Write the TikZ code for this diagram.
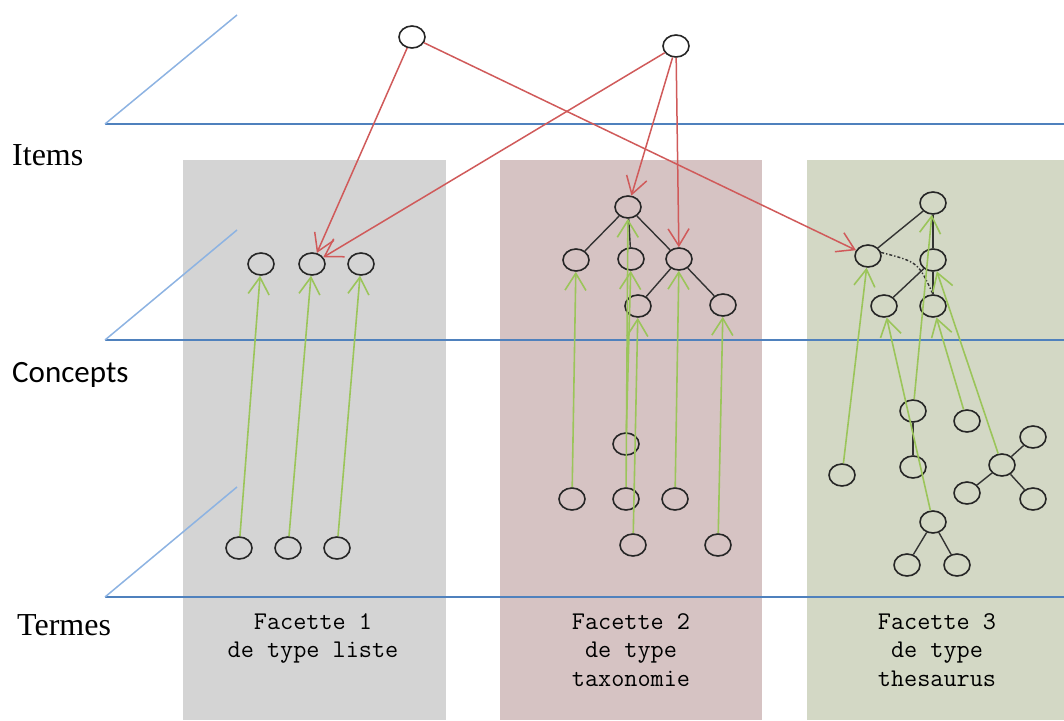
\documentclass[tikz,border=0pt]{standalone}
\usepackage{fontspec}
\setmainfont{Liberation Serif}
\newfontfamily\calibrifont{Carlito}
\usepackage{tikz}
\usetikzlibrary{shapes.geometric,arrows.meta}

\definecolor{planeblue}{HTML}{4F81BD}
\definecolor{diagblue}{HTML}{8DB3E2}
\definecolor{linkred}{HTML}{D05A5A}
\definecolor{linkgreen}{HTML}{9BC55A}
\definecolor{bggray}{HTML}{D4D4D4}
\definecolor{bgpink}{HTML}{D6C3C3}
\definecolor{bggreen}{HTML}{D3D8C5}

\tikzset{
  elt/.style={draw=black!85, line width=1.6pt, ellipse, minimum width=26pt, minimum height=22pt, inner sep=0pt},
  tree/.style={draw=black!80, line width=1.4pt},
  itemlink/.style={draw=linkred, line width=1.5pt, -{Straight Barb[length=17pt,width=21pt]}},
  termlink/.style={draw=linkgreen, line width=1.6pt, -{Straight Barb[length=17pt,width=21pt]}},
  plane/.style={draw=planeblue, line width=1.5pt},
  slant/.style={draw=diagblue, line width=1.5pt},
  layer/.style={font=\fontsize{32}{36}\selectfont, anchor=base west, inner sep=0pt},
  facet/.style={font=\ttfamily\fontsize{25.5}{28.5}\selectfont, align=center, anchor=north, inner sep=0pt}
}

\begin{document}
\begin{tikzpicture}[x=1pt,y=-1pt]
\useasboundingbox (0,0) rectangle (1064,720);
% facet backgrounds
\fill[bggray] (183,160) rectangle (446,720);
\fill[bgpink] (500,160) rectangle (762,720);
\fill[bggreen] (807,160) rectangle (1064,720);
% planes
\draw[plane] (105,124) -- (1064,124);
\draw[slant] (105,124) -- (237,15);
\draw[plane] (105,340) -- (1064,340);
\draw[slant] (105,340) -- (237,230);
\draw[plane] (105,597) -- (1064,597);
\draw[slant] (105,597) -- (237,487);
\node[layer] (items) at (12,165) {Items};
\node[layer, font=\calibrifont\fontsize{31}{36}\selectfont] (concepts) at (12,382) {Concepts};
\node[layer] (termes) at (17,635) {Termes};
\node[facet] (lab1) at (313,613) {Facette 1\\de type liste};
\node[facet] (lab2) at (631,613) {Facette 2\\de type\\taxonomie};
\node[facet] (lab3) at (937,613) {Facette 3\\de type\\thesaurus};
% items
\node[elt] (item1) at (412,37) {};
\node[elt] (item2) at (676,46) {};
% facette 1 : liste
\node[elt] (l1) at (261,264) {};
\node[elt] (l2) at (312,264) {};
\node[elt] (l3) at (361,264) {};
\node[elt] (lt1) at (239,548) {};
\node[elt] (lt2) at (288,548) {};
\node[elt] (lt3) at (337,548) {};
\draw[termlink] (lt1) -- (l1);
\draw[termlink] (lt2) -- (l2);
\draw[termlink] (lt3) -- (l3);
% facette 2 : taxonomie
\node[elt] (x0) at (628,207) {};
\node[elt] (x1) at (576,260) {};
\node[elt] (x2) at (631,259) {};
\node[elt] (x3) at (679,259) {};
\node[elt] (x4) at (638,306) {};
\node[elt] (x5) at (723,305) {};
\draw[tree] (x0) -- (x1);
\draw[tree] (x0) -- (x2);
\draw[tree] (x0) -- (x3);
\draw[tree] (x3) -- (x4);
\draw[tree] (x3) -- (x5);
\node[elt] (xt1) at (626,444) {};
\node[elt] (xt2) at (572,499) {};
\node[elt] (xt3) at (626,499) {};
\node[elt] (xt4) at (675,499) {};
\node[elt] (xt5) at (633,545) {};
\node[elt] (xt6) at (718,545) {};
\draw[termlink] (xt2) -- (x1);
\draw[termlink] (xt3) -- (x0);
\draw[termlink] (xt1) -- (x2);
\draw[termlink] (xt4) -- (x3);
\draw[termlink] (xt5) -- (x4);
\draw[termlink] (xt6) -- (x5);
% facette 3 : thesaurus
\node[elt] (s0) at (933,203) {};
\node[elt] (s1) at (868,256) {};
\node[elt] (s2) at (933,260) {};
\node[elt] (s3) at (884,306) {};
\node[elt] (s4) at (933,306) {};
\draw[tree] (s0) -- (s1);
\draw[tree] (s0) -- (s2);
\draw[tree] (s2) -- (s3);
\draw[tree] (s2) -- (s4);
\draw[tree, dash dot] (s1.15) .. controls (918,262) .. (s4.north);
\node[elt] (st1) at (913,411) {};
\node[elt] (st2) at (967,421) {};
\node[elt] (st3) at (913,467) {};
\node[elt] (st4) at (842,475) {};
\node[elt] (st5) at (1002,465) {};
\node[elt] (st6) at (1033,437) {};
\node[elt] (st7) at (967,493) {};
\node[elt] (st8) at (1033,499) {};
\node[elt] (st9) at (933,522) {};
\node[elt] (st10) at (907,565) {};
\node[elt] (st11) at (957,565) {};
\draw[tree] (st1) -- (st3);
\draw[tree] (st5) -- (st6);
\draw[tree] (st5) -- (st7);
\draw[tree] (st5) -- (st8);
\draw[tree] (st9) -- (st10);
\draw[tree] (st9) -- (st11);
\draw[termlink] (st4) -- (s1);
\draw[termlink] (st1) -- (s0);
\draw[termlink] (st9) -- (s3);
\draw[termlink] (st2) -- (s4);
\draw[termlink] (st5) -- (s2);
% items -> concepts
\draw[itemlink] (item1) -- (l2);
\draw[itemlink] (item2) -- (l2);
\draw[itemlink] (item2) -- (x0);
\draw[itemlink] (item2) -- (x3);
\draw[itemlink] (item1) -- (s1);
\end{tikzpicture}
\end{document}
